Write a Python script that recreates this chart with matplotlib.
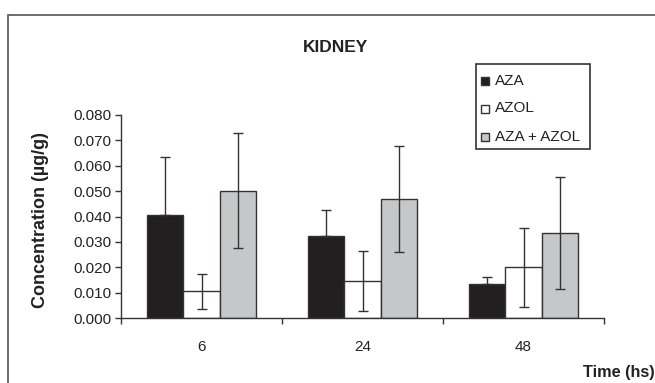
import matplotlib
matplotlib.use("Agg")
import matplotlib.pyplot as plt
from matplotlib.patches import Rectangle
from matplotlib.lines import Line2D
import numpy as np

plt.rcParams['font.family'] = ['Liberation Sans', 'DejaVu Sans']

categories = ["6", "24", "48"]
series_names = ["AZA", "AZOL", "AZA + AZOL"]
aza = [0.0405, 0.0322, 0.0135]
azol = [0.0105, 0.0146, 0.0200]
combo = [0.0502, 0.0468, 0.0335]
aza_err = [0.0230, 0.0105, 0.0028]
azol_err = [0.0068, 0.0118, 0.0155]
combo_err = [0.0226, 0.0208, 0.0222]
yticks = [0.0, 0.01, 0.02, 0.03, 0.04, 0.05, 0.06, 0.07, 0.08]

colors = ["#231f20", "#ffffff", "#c6c7c8"]
edge = "#333333"
txt = "#222222"

W, H = 655, 383
fig = plt.figure(figsize=(W / 100, H / 100), dpi=100)
# outer frame
fig.patches.append(Rectangle((8 / W, -0.1), 1.2, 1 - 15 / H + 0.1, transform=fig.transFigure,
                             fill=False, edgecolor="#555555", linewidth=1.2))

ax = fig.add_axes([121 / W, 1 - 318 / H, (604 - 121) / W, (318 - 115) / H])
x = np.arange(len(categories))
w = 0.224
data = [aza, azol, combo]
errs = [[np.zeros(3), aza_err], azol_err, combo_err]
for i, (vals, er, c) in enumerate(zip(data, errs, colors)):
    ax.bar(x + (i - 1) * w, vals, w, color=c, edgecolor=edge, linewidth=1.0, zorder=2)
    ax.errorbar(x + (i - 1) * w, vals, yerr=er, fmt='none', ecolor=edge, elinewidth=1.0,
                capsize=3.5, capthick=1.0, zorder=3)

ax.set_xlim(-0.5, 2.5)
ax.set_ylim(0, 0.08)
ax.set_yticks(yticks)
ax.set_yticklabels([f"{v:.3f}" for v in yticks])
ax.set_xticks(x)
ax.set_xticklabels(categories)
ax.set_xticks([-0.5, 0.5, 1.5, 2.5], minor=True)
ax.tick_params(axis='x', which='major', length=0, pad=16, labelsize=11, colors=txt)
ax.tick_params(axis='x', which='minor', length=4, direction='out', width=1, color=edge)
ax.tick_params(axis='y', length=4, width=1, color=edge, labelsize=11, labelcolor=txt, pad=3)
for s in ["top", "right"]:
    ax.spines[s].set_visible(False)
for s in ["left", "bottom"]:
    ax.spines[s].set_color(edge)
    ax.spines[s].set_linewidth(1.0)
ax.patch.set_alpha(0)

fig.text(41 / W, 1 - 220.5 / H, "Concentration (µg/g)", rotation=90, ha='center', va='center',
         fontsize=13, fontweight='bold', color=txt)
fig.text(335 / W, 1 - 47 / H, "KIDNEY", ha='center', va='center', fontsize=12.5,
         fontweight='bold', color=txt)
fig.text(583 / W, 1 - 373 / H, "Time (hs)", ha='left', va='center', fontsize=11.7,
         fontweight='bold', color=txt)

# legend box drawn manually
fig.patches.append(Rectangle((476 / W, 1 - 149 / H), (590 - 476) / W, (149 - 64) / H,
                             transform=fig.transFigure, facecolor="white", edgecolor="#333333",
                             linewidth=1.2, zorder=5))
rows_y = [80.7, 108.5, 136.7]
for name, c, ry in zip(series_names, colors, rows_y):
    fig.lines.append(Line2D([485 / W], [1 - ry / H], marker='s', markersize=5.8, linestyle='none',
                            markerfacecolor=c, markeredgecolor=edge, markeredgewidth=1.0,
                            transform=fig.transFigure, zorder=6))
    fig.text(495 / W, 1 - ry / H, name, ha='left', va='center', fontsize=11, color=txt, zorder=6)

fig.savefig("out.png", dpi=100)
